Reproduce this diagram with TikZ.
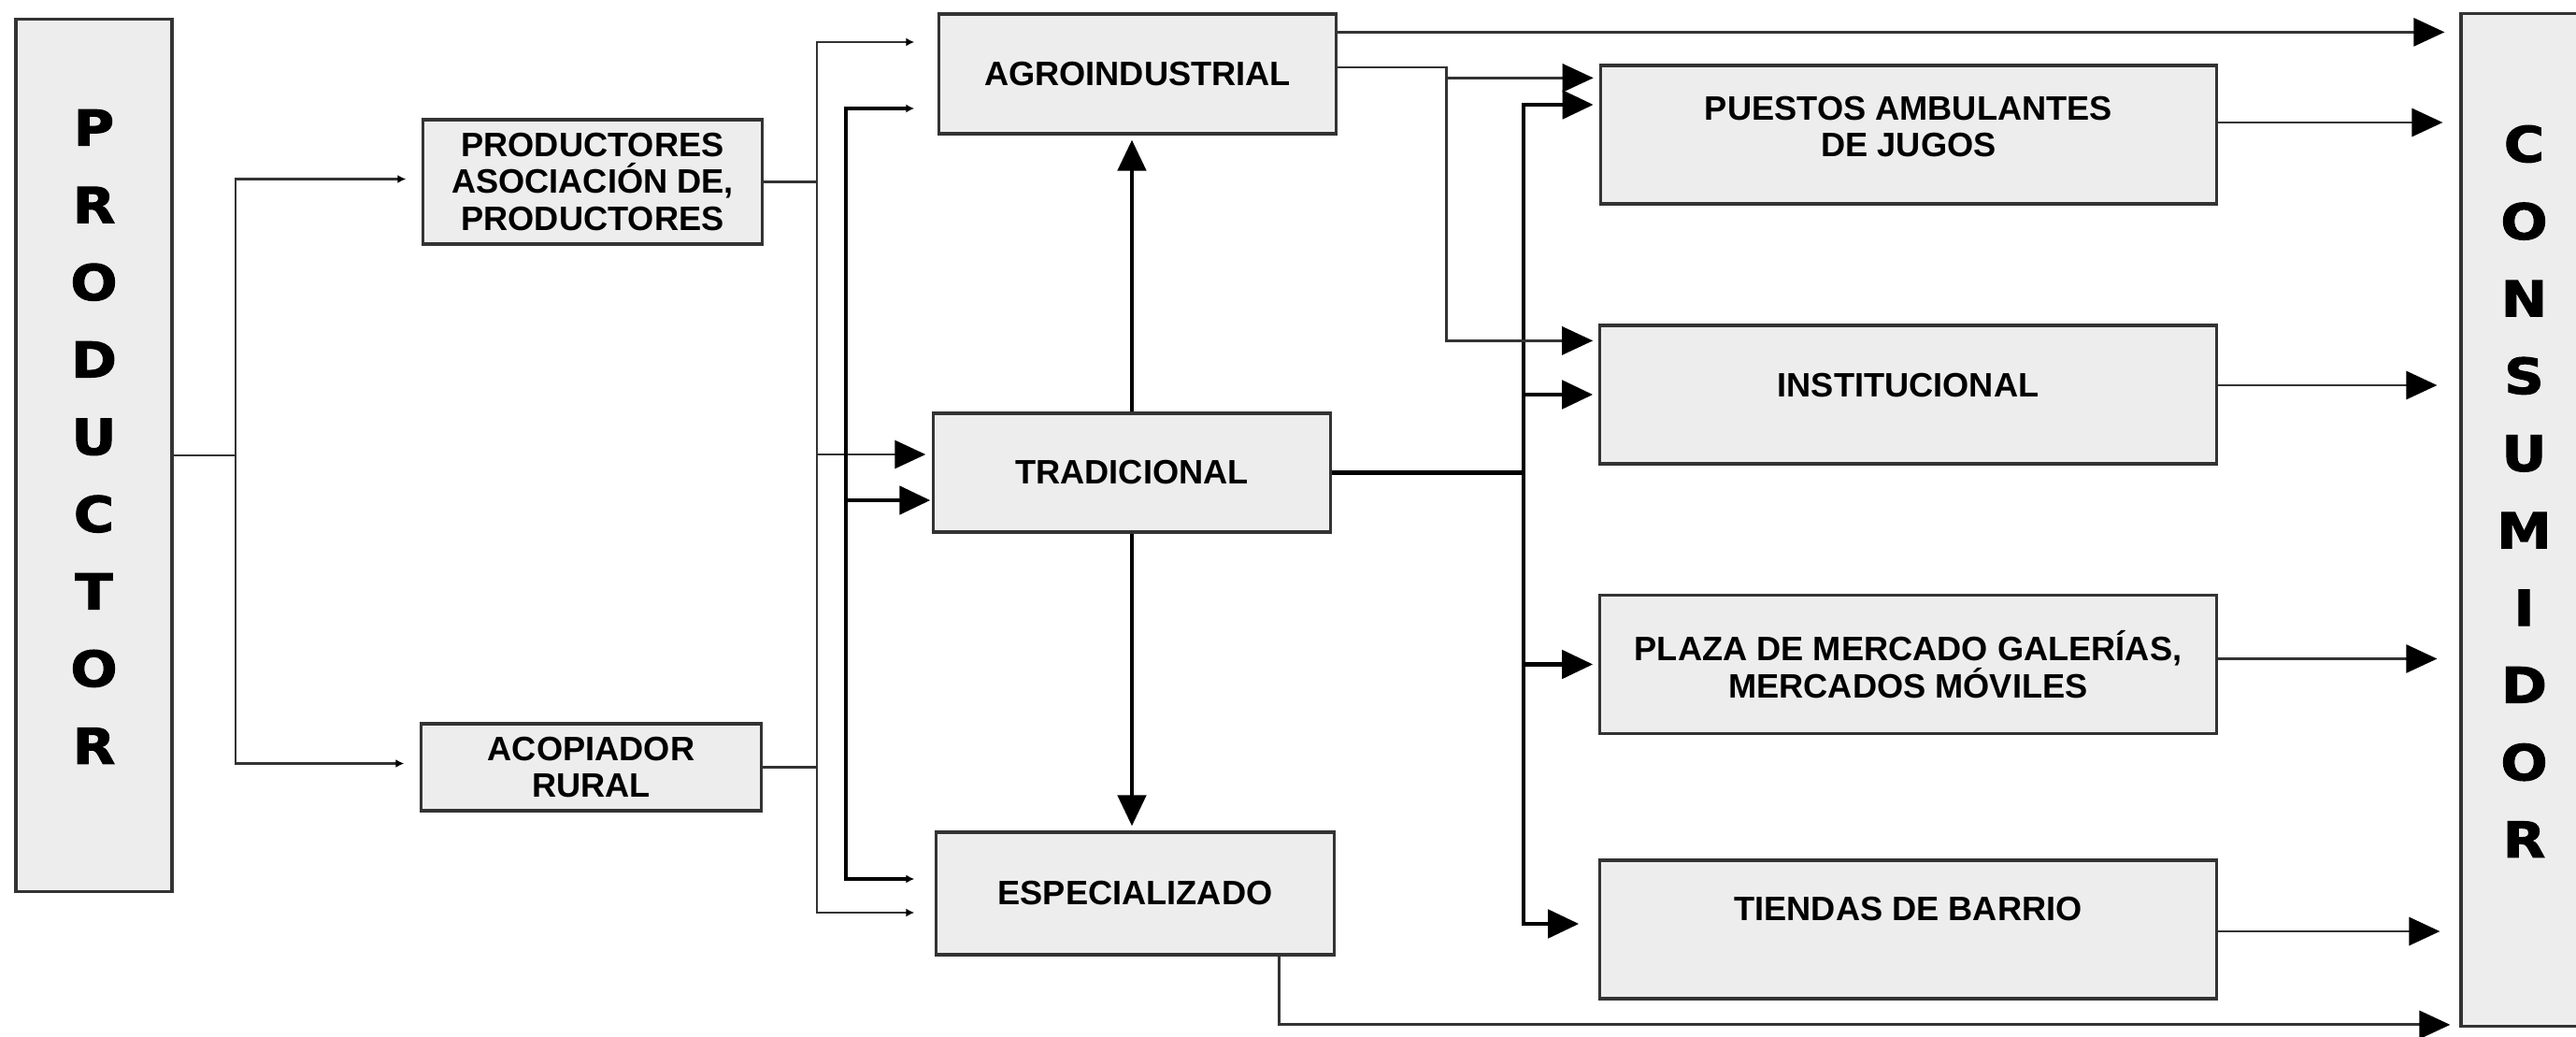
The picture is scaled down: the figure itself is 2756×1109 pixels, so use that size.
\documentclass[tikz,border=0pt]{standalone}
\usepackage{fontspec}
\setmainfont{Liberation Sans}
\newfontfamily\letras[BoldFeatures={FakeBold=2, FakeStretch=1.12}]{DejaVu Sans}
\usetikzlibrary{calc, arrows.meta}
\tikzset{>=latex,
  caja/.style={draw=black!80, fill=black!7, line width=0.9pt, inner sep=0pt, align=center,
    font=\bfseries\fontsize{10.3}{11.2}\selectfont},
  cajaancha/.style={caja, minimum width=6.59cm, minimum height=1.48cm},
  barra/.style={caja, font=\letras\bfseries\fontsize{15}{23.5}\selectfont},
  fina/.style={draw=black!80, line width=0.8pt},
  gruesa/.style={draw=black, line width=1.4pt},
  puntita/.style={-{Latex[length=0.9mm, width=0.9mm, color=black]}},
  puntitas/.style={{Latex[length=0.9mm, width=0.9mm, color=black]}-{Latex[length=0.9mm, width=0.9mm, color=black]}},
  flecha/.style={-{Triangle[length=3.3mm, width=3mm, color=black]}},
  flechas/.style={{Triangle[length=3.3mm, width=3mm, color=black]}-{Triangle[length=3.3mm, width=3mm, color=black]}}}
\begin{document}
\begin{tikzpicture}[x=0.01cm, y=-0.01cm]
\useasboundingbox (0,0) rectangle (2756,1109);
\clip (0,0) rectangle (2756,1109);

\node[barra, minimum width=1.67cm, minimum height=9.32cm, text depth=0.4cm] (productor) at (100.5,487) {P\\R\\O\\D\\U\\C\\T\\O\\R};
\node[barra, minimum width=1.35cm, minimum height=10.82cm, text depth=0.61cm] (consumidor) at (2700.5,556) {C\\O\\N\\S\\U\\M\\I\\D\\O\\R};

\node[caja, minimum width=3.62cm, minimum height=1.33cm] (asociacion) at (634,194.5) {PRODUCTORES\\ASOCIACIÓN DE,\\PRODUCTORES};
\node[caja, minimum width=3.63cm, minimum height=0.93cm] (acopiador) at (632.5,820.5) {ACOPIADOR\\RURAL};

\node[caja, minimum width=4.24cm, minimum height=1.28cm] (agro) at (1217,79) {AGROINDUSTRIAL};
\node[caja, minimum width=4.24cm, minimum height=1.27cm] (tradicional) at (1211,505.5) {TRADICIONAL};
\node[caja, minimum width=4.25cm, minimum height=1.31cm] (especializado) at (1214.5,955.5) {ESPECIALIZADO};

\node[cajaancha, text depth=0.17cm] (puestos) at (2042,144) {PUESTOS AMBULANTES\\DE JUGOS};
\node[cajaancha, text depth=0.2cm] (institucional) at (2041.5,422) {INSTITUCIONAL};
\node[cajaancha] (plaza) at (2041.5,710.5) {PLAZA DE MERCADO GALERÍAS,\\MERCADOS MÓVILES};
\node[cajaancha, text depth=0.44cm] (tiendas) at (2041.5,994) {TIENDAS DE BARRIO};

% productor
\coordinate (p1) at (252,487);
\draw[fina] (productor.east) -- (p1);
\draw[fina, puntita] (p1) |- ($(asociacion.west)+(-17,-3)$);
\draw[fina, puntita] (p1) |- ($(acopiador.west)+(-17,-4)$);

% acopio
\coordinate (s1) at (874,45);
\coordinate (s2) at (874,976);
\draw[fina] (asociacion.east) -- (asociacion.east -| s1);
\draw[fina] (acopiador.east) -- (acopiador.east -| s1);
\draw[fina, puntitas] ($(agro.west |- s1)+(-25,0)$) -- (s1) -- (s2) -- ($(especializado.west |- s2)+(-22,0)$);
\coordinate (t1) at ($(tradicional.west)+(-7,-19.5)$);
\draw[fina, flecha] (s1 |- t1) -- (t1);

\coordinate (g1) at (905,116);
\coordinate (g2) at (905,940);
\draw[gruesa, puntitas] ($(agro.west |- g1)+(-25,0)$) -- (g1) -- (g2) -- ($(especializado.west |- g2)+(-22,0)$);
\coordinate (t2) at ($(tradicional.west)+(-2,29.5)$);
\draw[gruesa, flecha] (g1 |- t2) -- (t2);

\draw[gruesa, flecha, shorten >=0.05cm] (tradicional.north) -- (tradicional.north |- agro.south);
\draw[gruesa, flecha, shorten >=0.05cm] (tradicional.south) -- (tradicional.south |- especializado.north);

% mercados
\coordinate (d1) at (1630,112);
\coordinate (d2) at (1630,988);
\draw[gruesa] (tradicional.east) -- (tradicional.east -| d1);
\draw[gruesa, flechas] ($(puestos.west |- d1)+(-6,0)$) -- (d1) -- (d2) -- ($(tiendas.west |- d2)+(-21,0)$);
\draw[gruesa, flecha] (d1 |- institucional.west) -- ($(institucional.west)+(-6,0)$);
\draw[gruesa, flecha] (d1 |- plaza.west) -- ($(plaza.west)+(-6,0)$);

\coordinate (a1) at ($(agro.north east)+(0,21)$);
\draw[fina, flecha] (a1) -- ($(consumidor.west |- a1)+(-16,0)$);
\coordinate (a2) at ($(agro.east)+(0,-7)$);
\coordinate (m1) at ($(a2)+(117,0)$);
\coordinate (m2) at ($(puestos.north west)+(-6,15)$);
\draw[fina, flecha] (a2) -- (m1) |- ($(institucional.north west)+(-6,18)$);
\draw[fina, flecha] (m1 |- m2) -- (m2);

% consumidor
\draw[fina, flecha] ($(puestos.east)+(0,-13)$) -- ($(consumidor.west |- puestos.east)+(-18,-13)$);
\draw[fina, flecha] ($(institucional.east)+(0,-10)$) -- ($(consumidor.west |- institucional.east)+(-24,-10)$);
\draw[fina, flecha] ($(plaza.east)+(0,-6)$) -- ($(consumidor.west |- plaza.east)+(-24,-6)$);
\draw[fina, flecha] ($(tiendas.east)+(0,2)$) -- ($(consumidor.west |- tiendas.east)+(-21,2)$);
\coordinate (e1) at ($(especializado.south east)+(-60,0)$);
\draw[fina, flecha] (e1) |- ($(consumidor.south west)+(-10,-3)$);
\end{tikzpicture}
\end{document}
